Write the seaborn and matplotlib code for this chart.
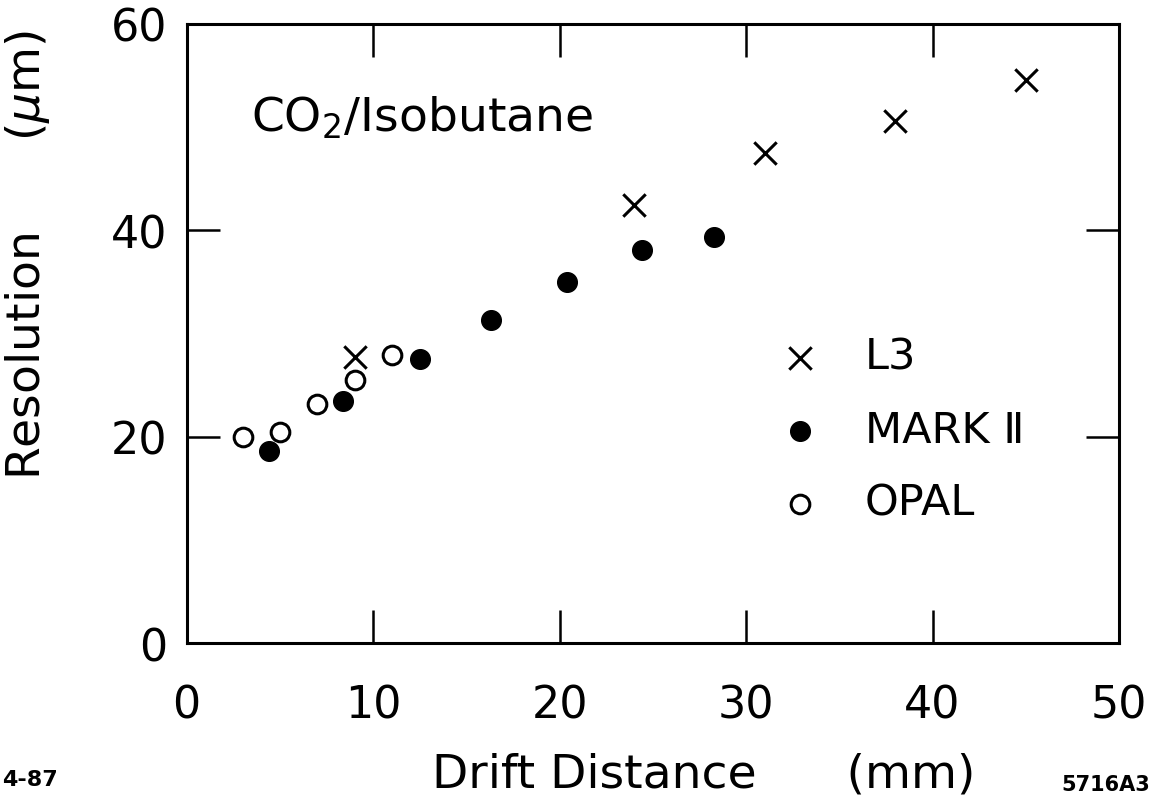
import matplotlib
matplotlib.use("Agg")
import matplotlib.pyplot as plt
import seaborn as sns
import pandas as pd

# ---- data ----
l3_x = [9.0, 24.0, 31.0, 38.0, 45.0]
l3_y = [27.7, 42.5, 47.5, 50.6, 54.6]
mark2_x = [4.4, 8.4, 12.5, 16.3, 20.4, 24.4, 28.3]
mark2_y = [18.6, 23.5, 27.5, 31.3, 35.0, 38.1, 39.4]
opal_x = [3.0, 5.0, 7.0, 9.0, 11.0]
opal_y = [20.0, 20.5, 23.2, 25.5, 27.9]
x_ticks = [0, 10, 20, 30, 40, 50]
y_ticks = [0, 20, 40, 60]
series_names = ["L3", "MARK Ⅱ", "OPAL"]

sns.set_style("ticks")
plt.rcParams["font.family"] = ["DejaVu Sans"]
plt.rcParams["mathtext.fontset"] = "dejavusans"
plt.rcParams["text.color"] = "black"
plt.rcParams["axes.labelcolor"] = "black"
plt.rcParams["xtick.color"] = "black"
plt.rcParams["ytick.color"] = "black"

df_l3 = pd.DataFrame({"x": l3_x, "y": l3_y})
df_m2 = pd.DataFrame({"x": mark2_x, "y": mark2_y})
df_op = pd.DataFrame({"x": opal_x, "y": opal_y})

fig = plt.figure(figsize=(11.62, 8.03), dpi=100)
ax = fig.add_axes([0.1607, 0.198, 0.8023, 0.7709])

sns.scatterplot(data=df_l3, x="x", y="y", ax=ax, marker="x", s=260,
                color="black", linewidth=2.2, label=series_names[0])
sns.scatterplot(data=df_m2, x="x", y="y", ax=ax, marker="o", s=200,
                color="black", edgecolor="black", linewidth=1, label=series_names[1])
sns.scatterplot(data=df_op, x="x", y="y", ax=ax, marker="o", s=180,
                facecolor="white", edgecolor="black", linewidth=2.2, label=series_names[2])

ax.set_xlim(0, 50)
ax.set_ylim(0, 60)
ax.set_xticks(x_ticks)
ax.set_yticks(y_ticks)
ax.set_xticklabels([str(v) for v in x_ticks])
ax.set_yticklabels([str(v) for v in y_ticks])

for sp in ax.spines.values():
    sp.set_visible(True)
    sp.set_linewidth(2.2)
    sp.set_color("black")

ax.tick_params(axis="both", which="major", direction="in", length=24, width=1.8,
               top=True, right=True, labelsize=32, colors="black")
ax.tick_params(axis="x", pad=29)
ax.tick_params(axis="y", pad=14)

ax.set_xlabel("Drift Distance      (mm)", fontsize=34)
ax.set_ylabel(r"Resolution      ($\mu$m)", fontsize=34)
ax.xaxis.set_label_coords(0.554, -0.1745)
ax.yaxis.set_label_coords(-0.1445, 0.628)

ax.text(0.253, 0.85, r"CO$_2$/Isobutane", transform=ax.transAxes,
        fontsize=34, ha="center", va="center")

leg = ax.legend(loc="upper left", bbox_to_anchor=(0.635, 0.496), frameon=False,
                fontsize=31, handlelength=1.0, handletextpad=1.0,
                labelspacing=0.72, borderpad=0, borderaxespad=0, scatterpoints=1)

fig.text(0.002, 0.016, "4-87", fontsize=16, fontweight="bold", ha="left", va="bottom")
fig.text(0.99, 0.01, "5716A3", fontsize=15, fontweight="bold", ha="right", va="bottom")

fig.savefig("out.png", dpi=100, facecolor="white")
